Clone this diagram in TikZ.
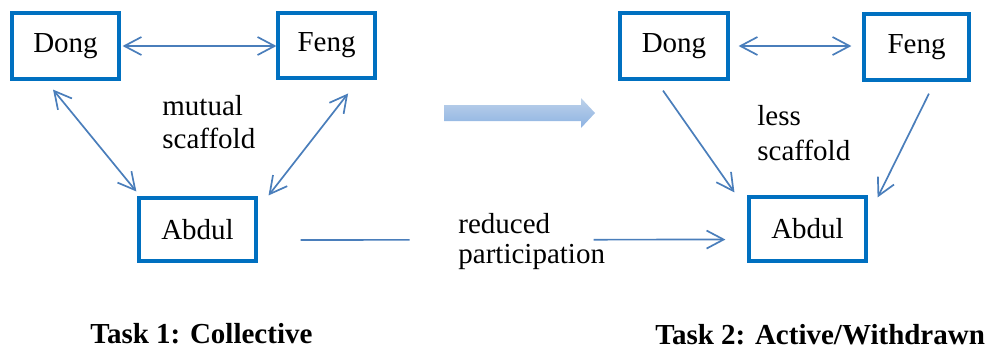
\documentclass[tikz,border=0pt]{standalone}
\usepackage{fontspec}
\setmainfont{LiberationSerif}[Extension=.ttf, UprightFont=*-Regular, BoldFont=*-Bold, ItalicFont=*-Italic, BoldItalicFont=*-BoldItalic]
\usepackage{xcolor}
\usetikzlibrary{arrows.meta,calc}
\definecolor{boxBlue}{RGB}{0,112,192}
\definecolor{linkBlue}{RGB}{74,126,187}
\definecolor{shiftTop}{RGB}{190,210,234}
\definecolor{shiftLow}{RGB}{140,178,226}
\tikzset{
  person/.style={draw=boxBlue, line width=1.6pt, inner sep=0pt, font=\fontsize{14.5}{16.5}\selectfont},
  link/.style={draw=linkBlue, line width=0.85pt},
  barb/.tip={Straight Barb[length=8.5pt, width=9pt, line width=0.85pt]},
  note/.style={align=left, inner sep=0pt, anchor=base west, font=\fontsize{14.5}{16.5}\selectfont},
  task/.style={inner sep=0pt, anchor=base west, font=\fontsize{14.5}{16.5}\selectfont\bfseries}
}

\begin{document}
\begin{tikzpicture}[x=0.5pt,y=-0.5pt]
  \useasboundingbox (0,0) rectangle (990,349);

  % Task 1 group
  \node[person, minimum width=53.5pt, minimum height=33pt] (dongA) at (65.5,46) {Dong};
  \node[person, minimum width=48.5pt, minimum height=32.5pt] (fengA) at (326.5,45.5) {Feng};
  \node[person, minimum width=58.5pt, minimum height=31.5pt] (abdulA) at (197.5,229.5) {Abdul};
  \node[note] (mutual) at (162,148) {mutual\\scaffold};

  % Task 2 group
  \node[person, minimum width=54pt, minimum height=33pt] (dongB) at (674,46) {Dong};
  \node[person, minimum width=52.5pt, minimum height=33pt] (fengB) at (916.5,47) {Feng};
  \node[person, minimum width=58.5pt, minimum height=32pt] (abdulB) at (807.5,229) {Abdul};
  \node[note, font=\fontsize{14.5}{17.5}\selectfont] (less) at (757,160) {less\\scaffold};

  % shift between the tasks
  \shade[top color=shiftTop, middle color=shiftTop, bottom color=shiftLow]
    (444,105) -- (581,105) -- (581,98) -- (595,113) -- (581,128) -- (581,121) -- (444,121) -- cycle;

  % Task 1 arrows
  \draw[link, barb-barb, shorten <=1pt] (dongA.east) -- (dongA.east -| fengA.west);
  \draw[link, barb-barb, shorten <=5.8pt, shorten >=3.2pt] ([xshift=-9.9pt]dongA.south) -- ([xshift=1.5pt]abdulA.north west);
  \draw[link, barb-barb, shorten <=8.8pt, shorten >=0.6pt] ([xshift=16.2pt]fengA.south) -- ([xshift=5.1pt]abdulA.north east);

  % Task 2 arrows
  \draw[link, barb-barb, shorten <=4.5pt, shorten >=5.5pt] (dongB.east) -- (dongB.east -| fengB.west);
  \draw[link, -barb, shorten <=6.1pt, shorten >=1.8pt] ([xshift=-9pt]dongB.south) -- ([xshift=-5.45pt]abdulB.north west);
  \draw[link, -barb, shorten <=6.7pt] ([xshift=9.2pt]fengB.south) -- ([xshift=5pt,yshift=-1pt]abdulB.north east);

  % across the tasks
  \draw[link, -barb, dash pattern=on 54.5pt off 92pt on 67.5pt off 100pt, shorten <=21.5pt, shorten >=11pt]
    ([yshift=-5.25pt]abdulA.east) -- ([yshift=-5.25pt]abdulB.west);
  \node[note, font=\fontsize{14.5}{15}\selectfont] (reduced) at (458,263) {reduced\\participation};

  % captions
  \node[task] (taskA) at (90,343) {Task 1: Collective};
  \node[task] (taskB) at (655,344) {Task 2: Active/Withdrawn};
\end{tikzpicture}
\end{document}
